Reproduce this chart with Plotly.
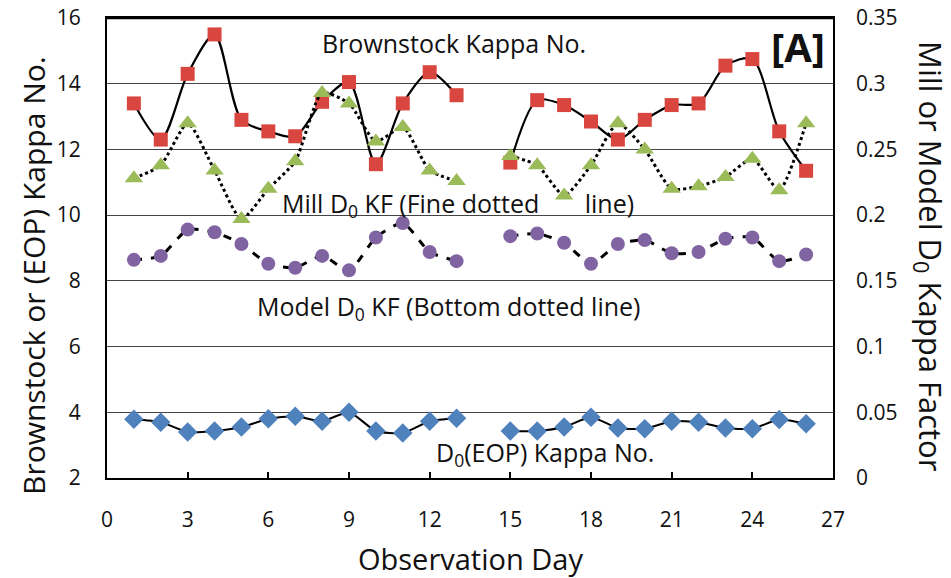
import plotly.graph_objects as go

days = [1, 2, 3, 4, 5, 6, 7, 8, 9, 10, 11, 12, 13, 14, 15, 16, 17, 18, 19, 20, 21, 22, 23, 24, 25, 26]
brownstock_kappa = [13.4, 12.3, 14.3, 15.5, 12.9, 12.55, 12.4, 13.45, 14.05, 11.55, 13.4, 14.35, 13.65, None,
                    11.6, 13.5, 13.35, 12.85, 12.3, 12.9, 13.35, 13.4, 14.55, 14.75, 12.55, 11.35]
mill_d0_kf = [0.228, 0.238, 0.270, 0.234, 0.197, 0.220, 0.241, 0.293, 0.285, 0.256, 0.267, 0.234, 0.226, None,
              0.245, 0.238, 0.215, 0.238, 0.270, 0.250, 0.220, 0.222, 0.229, 0.243, 0.219, 0.270]
model_d0_kf = [0.166, 0.169, 0.189, 0.187, 0.178, 0.163, 0.160, 0.169, 0.158, 0.183, 0.194, 0.172, 0.165, None,
               0.184, 0.186, 0.179, 0.163, 0.178, 0.181, 0.171, 0.172, 0.182, 0.183, 0.165, 0.170]
eop_kappa = [3.79, 3.70, 3.40, 3.43, 3.55, 3.80, 3.88, 3.73, 4.00, 3.43, 3.37, 3.73, 3.82, None,
             3.43, 3.43, 3.55, 3.85, 3.52, 3.50, 3.73, 3.70, 3.52, 3.50, 3.78, 3.65]

x_ticks = [0, 3, 6, 9, 12, 15, 18, 21, 24, 27]
left_ticks = [2, 4, 6, 8, 10, 12, 14, 16]
right_ticks = [0, 0.05, 0.1, 0.15, 0.2, 0.25, 0.3, 0.35]
right_labels = ["0", "0.05", "0.1", "0.15", "0.2", "0.25", "0.3", "0.35"]

FONT = "Open Sans"
TXT = "#111111"
OFF = 8  # page body margin
W, H = 951 - OFF, 578 - OFF
# plot area in page pixels: x 107..833, y 18..478
ml, mt = 107 - OFF, 18 - OFF
mr, mb = W - (833 - OFF), H - (478 - OFF)
pw, ph = W - ml - mr, H - mt - mb


def px(xp):
    return (xp - OFF - ml) / pw


def py(yp):
    return (H - mb - (yp - OFF)) / ph


fig = go.Figure()

fig.add_trace(go.Scatter(x=days, y=model_d0_kf, yaxis="y2", mode="lines+markers",
                         line=dict(color="black", width=3, dash="8px,9px", shape="spline", smoothing=0.6),
                         marker=dict(symbol="circle", size=14, color="#8064A2"), connectgaps=False))
fig.add_trace(go.Scatter(x=days, y=mill_d0_kf, yaxis="y2", mode="lines+markers",
                         line=dict(color="black", width=3, dash="dot", shape="spline", smoothing=0.6),
                         marker=dict(symbol="triangle-up", size=16, color="#9BBB59"), connectgaps=False))
fig.add_trace(go.Scatter(x=days, y=eop_kappa, mode="lines+markers",
                         line=dict(color="black", width=2, shape="spline", smoothing=0.6),
                         marker=dict(symbol="diamond", size=15, color="#4F81BD"), connectgaps=False))
fig.add_trace(go.Scatter(x=days, y=brownstock_kappa, mode="lines+markers",
                         line=dict(color="black", width=2.2, shape="spline", smoothing=0.8),
                         marker=dict(symbol="square", size=14, color="#D9463F"), connectgaps=False))

ann_font = dict(family=FONT, size=25, color=TXT)


def ann(xp, yp, text, font, angle=0):
    return dict(x=px(xp), y=py(yp), xref="paper", yref="paper", xanchor="center", yanchor="middle",
                text=text, showarrow=False, font=font, textangle=angle)


annotations = [
    ann(454, 43, "Brownstock Kappa No.", ann_font),
    ann(798, 47, "<b>[A]</b>", dict(family=FONT, size=40, color=TXT)),
    ann(458, 204, "Mill D<sub>0</sub> KF (Fine dotted       line)", ann_font),
    ann(448, 307, "Model D<sub>0</sub> KF (Bottom dotted line)", ann_font),
    ann(545, 453, "D<sub>0</sub>(EOP) Kappa No.", ann_font),
    ann(33, 276, "Brownstock or (EOP) Kappa No.", dict(family=FONT, size=30, color=TXT), -90),
    ann(929, 256, "Mill or Model D<sub>0</sub> Kappa Factor", dict(family=FONT, size=31, color=TXT), 90),
    ann(470, 558, "Observation Day", dict(family=FONT, size=29, color=TXT)),
]

fig.update_layout(
    width=W, height=H, margin=dict(l=ml, r=mr, t=mt, b=mb, autoexpand=False),
    plot_bgcolor="white", paper_bgcolor="white", showlegend=False,
    font=dict(family=FONT, size=21, color=TXT),
    xaxis=dict(range=[0, 27], tickvals=x_ticks, ticks="inside", ticklen=6, tickwidth=1.5, tickcolor="black",
               showgrid=False, zeroline=False, showline=True, linecolor="black", linewidth=2, mirror=True,
               tickfont=dict(size=21), ticklabelstandoff=22, automargin=False, ticklabeloverflow="allow"),
    yaxis=dict(range=[2, 16], tickvals=left_ticks, ticks="", showgrid=True, gridcolor="#444", gridwidth=1.2,
               zeroline=False, showline=True, linecolor="black", linewidth=2, mirror=True,
               tickfont=dict(size=21), ticklabelstandoff=20, automargin=False, ticklabeloverflow="allow"),
    yaxis2=dict(range=[0, 0.35], tickvals=right_ticks, ticktext=right_labels,
                overlaying="y", side="right", showgrid=False, zeroline=False, ticks="",
                tickfont=dict(size=21), ticklabelstandoff=22, automargin=False, ticklabeloverflow="allow"),
    shapes=[dict(type="line", xref="paper", yref="paper", x0=0, x1=1, y0=1, y1=1,
                 line=dict(color="black", width=2.5), layer="above")],
    annotations=annotations,
)

fig.write_html("out.html", config={"displayModeBar": False})
